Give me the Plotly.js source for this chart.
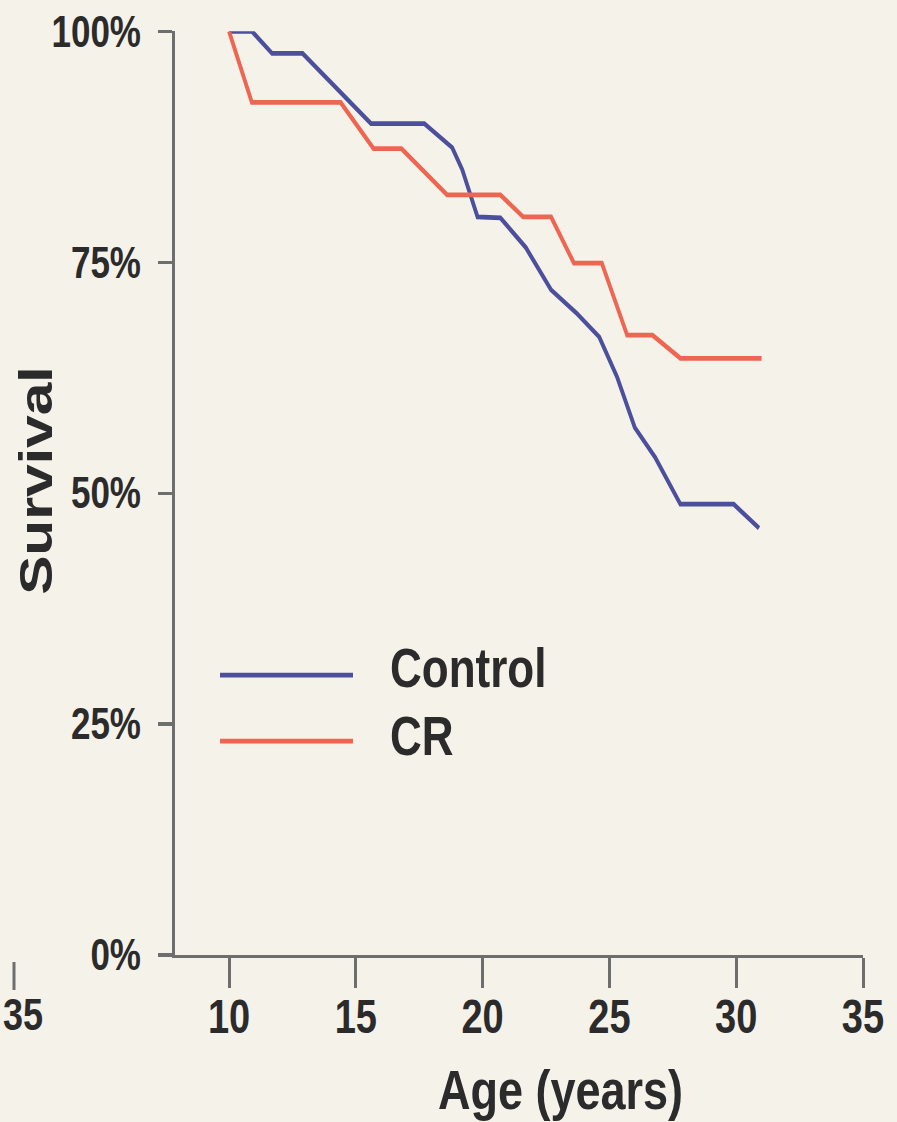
<!DOCTYPE html>
<html>
<head>
<meta charset="utf-8">
<script src="https://cdn.plot.ly/plotly-3.0.1.min.js"></script>
<style>
  html, body { margin: 0; padding: 0; background: #f5f2ea; overflow: hidden; }
  #wrap { width: 897px; height: 1122px; overflow: hidden; }
  #chart { width: 897px; transform: scaleY(1.25); transform-origin: 0 0; }
</style>
</head>
<body>
<div id="wrap"><div id="chart"></div></div>
<script>
// ---- data ----
const controlAge  = [10, 10.9, 11.7, 12.9, 15.6, 17.7, 18.8, 19.2, 19.8, 20.7, 21.7, 22.7, 23.7, 24.6, 25.3, 26.0, 26.8, 27.8, 29.9, 30.9];
const controlSurv = [100, 100, 97.6, 97.6, 90.0, 90.0, 87.4, 85.0, 79.9, 79.8, 76.6, 72.0, 69.5, 66.9, 62.6, 57.1, 53.9, 48.8, 48.8, 46.2];

const crAge  = [10, 10.9, 14.4, 15.7, 16.8, 18.6, 20.7, 21.6, 22.7, 23.6, 24.7, 25.7, 26.7, 27.8, 31.0];
const crSurv = [100, 92.3, 92.3, 87.3, 87.3, 82.3, 82.3, 79.9, 79.9, 74.9, 74.9, 67.1, 67.1, 64.6, 64.6];

const seriesNames = ["Control", "CR"];
const seriesColors = ["#4b4f9c", "#ee6652"];

const xTickVals = [10, 15, 20, 25, 30, 35];
const xTickLabels = ["10", "15", "20", "25", "30", "35"];
const yTickVals = [0, 25, 50, 75, 100];
const yTickLabels = ["0%", "25%", "50%", "75%", "100%"];

const xTitle = "Age (years)";
const yTitle = "Survival";

// ---- layout helpers ----
// The scanned reference is stretched vertically; draw at 1/S height and stretch with CSS.
const S = 1.25;
const W = 897, H = 1122;                       // reference pixels
const MR = { l: 175, r: 34, t: 31, b: 167 };   // reference-pixel margins
const PW = W - MR.l - MR.r, PH = H - MR.t - MR.b;
const px = x => (x - MR.l) / PW;               // reference px -> paper
const py = y => (H - MR.b - y) / PH;

const font = "Liberation Sans, Arial, Helvetica, sans-serif";
const textColor = "#2b2b2b";
const axisColor = "#6e6e6e";

const traces = [
  { x: controlAge, y: controlSurv, name: seriesNames[0], mode: "lines",
    line: { color: seriesColors[0], width: 3.8 }, showlegend: false, hoverinfo: "skip" },
  { x: crAge, y: crSurv, name: seriesNames[1], mode: "lines",
    line: { color: seriesColors[1], width: 3.8 }, showlegend: false, hoverinfo: "skip" }
];

const layout = {
  width: W, height: H / S,
  margin: { l: MR.l, r: MR.r, t: MR.t / S, b: MR.b / S, pad: 0 },
  paper_bgcolor: "#f5f2ea",
  plot_bgcolor: "#f5f2ea",
  showlegend: false,
  xaxis: {
    range: [7.87, 35],
    tickvals: xTickVals, ticktext: xTickLabels,
    ticks: "outside", ticklen: 24, tickwidth: 3, tickcolor: axisColor,
    showline: true, linewidth: 2.6, linecolor: axisColor,
    showgrid: false, zeroline: false,
    ticklabelstandoff: -10,
    tickfont: { family: font, size: 38, color: textColor, weight: "bold" }
  },
  yaxis: {
    range: [0, 100],
    tickvals: yTickVals, ticktext: yTickLabels,
    ticks: "outside", ticklen: 14, tickwidth: 2.6, tickcolor: axisColor,
    showline: true, linewidth: 3, linecolor: axisColor,
    showgrid: false, zeroline: false,
    ticklabelstandoff: 10,
    tickfont: { family: font, size: 35, color: textColor, weight: "bold" }
  },
  shapes: [
    { type: "line", xref: "paper", yref: "paper", x0: px(220), x1: px(353), y0: py(675), y1: py(675),
      line: { color: seriesColors[0], width: 3.8 } },
    { type: "line", xref: "paper", yref: "paper", x0: px(220), x1: px(353), y0: py(741), y1: py(741),
      line: { color: seriesColors[1], width: 3.8 } },
    // fragment of the neighbouring panel's axis at the left edge
    { type: "line", xref: "paper", yref: "paper", x0: px(14), x1: px(14), y0: py(962), y1: py(990),
      line: { color: axisColor, width: 3 } }
  ],
  annotations: [
    { text: seriesNames[0], xref: "paper", yref: "paper", x: px(388), y: py(668),
      xanchor: "left", yanchor: "middle", showarrow: false,
      font: { family: font, size: 44, color: textColor, weight: "bold" } },
    { text: seriesNames[1], xref: "paper", yref: "paper", x: px(388), y: py(735),
      xanchor: "left", yanchor: "middle", showarrow: false,
      font: { family: font, size: 44, color: textColor, weight: "bold" } },
    { text: xTitle, xref: "paper", yref: "paper", x: px(560), y: py(1090),
      xanchor: "center", yanchor: "middle", showarrow: false,
      font: { family: font, size: 45, color: textColor, weight: "bold" } },
    { text: yTitle, xref: "paper", yref: "paper", x: px(36), y: py(481),
      xanchor: "center", yanchor: "middle", showarrow: false, textangle: -90,
      font: { family: font, size: 47, color: textColor, weight: "bold" } },
    { text: "35", xref: "paper", yref: "paper", x: px(1), y: py(1014),
      xanchor: "left", yanchor: "middle", showarrow: false,
      font: { family: font, size: 36, color: textColor, weight: "bold" } }
  ]
};

Plotly.newPlot("chart", traces, layout, { staticPlot: true, displayModeBar: false });
</script>
</body>
</html>
